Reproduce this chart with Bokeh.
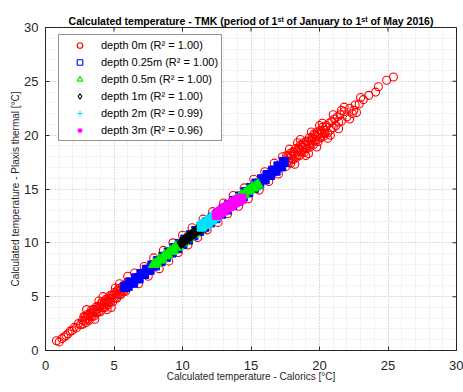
from bokeh.plotting import figure
from bokeh.models import (Range1d, SingleIntervalTicker, Legend, LegendItem,
                          ColumnDataSource)
from bokeh.embed import file_html
from bokeh.resources import INLINE

# ---- data ----
# depth 0m (red open circles)
d0_x = [0.8, 1.0, 1.2, 1.35, 1.5, 1.65, 1.8, 1.95, 2.1, 2.25, 2.4, 2.55,
        2.70, 2.75, 2.80, 2.85, 2.90, 2.95, 3.00, 3.05, 3.10, 3.15, 3.20, 3.25, 3.30,
        3.35, 3.40, 3.45, 3.50, 3.55, 3.60, 3.65, 3.70, 3.75, 3.80, 3.85, 3.90, 3.95,
        4.00, 4.05, 4.10, 4.15, 4.20, 4.25, 4.30, 4.35, 4.40, 4.45, 4.50, 4.55, 4.60,
        4.65, 4.70, 4.75, 4.80, 4.85, 4.90, 4.95, 5.00, 5.05, 5.10, 5.15, 5.20, 5.25,
        5.30, 5.35, 5.40, 5.45, 5.50, 5.55, 5.60, 5.65, 5.70, 5.75, 5.80, 5.85, 5.90,
        5.95, 6.00,
        3.0, 3.6, 4.2, 4.8, 5.4, 3.9, 4.5, 5.1,
        6.0, 6.5, 6.8, 7.2, 7.5, 7.9, 8.3, 8.6, 9.0, 9.3, 9.7, 10.0, 10.4, 10.7, 11.1,
        11.5, 11.8, 12.2, 12.6, 13.0, 13.3, 13.7, 14.1, 14.5, 14.8, 15.2, 15.6, 16.0,
        16.3, 16.7, 17.0, 17.3,
        17.50, 17.55, 17.60, 17.65, 17.70, 17.75, 17.80, 17.85, 17.90, 17.95, 18.00,
        18.05, 18.10, 18.15, 18.20, 18.25, 18.30, 18.35, 18.40, 18.45, 18.50, 18.55,
        18.60, 18.65, 18.70, 18.75, 18.80, 18.85, 18.90, 18.95, 19.00, 19.05, 19.10,
        19.15, 19.20, 19.25, 19.30, 19.35, 19.40, 19.45, 19.50, 19.55, 19.60, 19.65,
        19.70, 19.75, 19.80, 19.85, 19.90, 19.95, 20.00, 20.05, 20.10, 20.15, 20.20,
        20.25, 20.30, 20.35, 20.40, 20.45,
        17.8, 18.2, 18.6, 19.0, 19.4, 19.8, 20.2, 20.6, 21.0, 21.4, 21.8, 22.2, 18.4,
        19.2, 20.0, 20.8, 21.6, 22.5, 23.0, 22.7,
        20.5, 20.6, 20.7, 20.8, 20.9, 21.0, 21.1, 21.2, 21.3, 21.4, 21.5, 21.6, 21.8,
        22.0, 22.2, 22.4, 22.6, 22.9, 23.2, 23.6, 24.1, 24.3, 24.9, 25.4]
d0_y = [0.9, 0.8, 1.1, 1.25, 1.4, 1.55, 1.8, 1.85, 2.15, 2.1, 2.5, 2.4,
        2.80, 2.45, 3.15, 2.75, 3.15, 2.60, 3.00, 3.35, 2.90, 3.30, 2.80, 3.45, 3.25,
        3.75, 3.15, 3.50, 3.80, 3.20, 3.70, 3.50, 4.05, 3.50, 3.85, 4.10, 3.60, 4.10,
        3.60, 4.35, 4.00, 4.55, 4.00, 4.25, 4.50, 4.00, 4.75, 4.40, 4.65, 4.25, 4.85,
        4.50, 5.10, 4.50, 4.85, 5.15, 4.50, 5.15, 4.90, 5.40, 4.85, 5.25, 4.85, 5.55,
        5.25, 5.75, 5.20, 5.60, 5.20, 5.80, 5.50, 6.00, 5.45, 5.80, 6.10, 5.50, 6.10,
        5.80, 6.40,
        3.8, 2.9, 5.0, 4.0, 6.2, 4.6, 3.8, 5.8,
        6.9, 7.2, 6.2, 7.8, 6.9, 8.6, 7.6, 9.3, 8.3, 10.0, 9.1, 10.7, 9.8, 11.4, 10.5,
        12.2, 11.2, 12.9, 11.9, 13.7, 12.7, 14.4, 13.4, 15.1, 14.1, 15.9, 14.9, 16.6,
        15.7, 17.4, 16.4, 18.0,
        17.70, 17.10, 18.10, 17.55, 18.05, 17.45, 17.85, 18.30, 17.40, 18.10, 17.80,
        18.45, 17.75, 18.40, 18.15, 18.75, 17.90, 18.45, 18.15, 18.75, 18.70, 18.10,
        19.10, 18.55, 19.05, 18.45, 18.85, 19.30, 18.40, 19.10, 18.80, 19.45, 18.75,
        19.40, 19.15, 19.75, 18.90, 19.45, 19.15, 19.75, 19.70, 19.10, 20.10, 19.55,
        20.05, 19.45, 19.85, 20.30, 19.40, 20.10, 19.80, 20.45, 19.75, 20.40, 20.15,
        20.75, 19.90, 20.45, 20.15, 20.75,
        18.7, 17.3, 19.6, 18.1, 20.3, 18.9, 21.1, 19.7, 21.9, 20.6, 22.6, 21.5, 19.3,
        18.3, 20.9, 20.0, 22.3, 22.3, 23.5, 22.1,
        20.9, 20.2, 21.1, 20.5, 21.3, 20.7, 21.5, 20.9, 21.7, 21.2, 21.9, 21.3, 22.2,
        21.7, 22.5, 22.0, 22.8, 22.9, 23.3, 23.7, 24.0, 24.5, 25.1, 25.4]

# depth 0.25m (blue squares)
d025_x = [5.8, 6.0, 6.2, 6.4, 6.6, 6.8, 7.0, 7.2, 7.4, 7.6, 7.8, 8.0, 8.2, 8.4, 8.6,
          8.8, 9.0, 9.2, 9.4, 9.6, 9.8, 10.0, 10.2, 10.4, 10.6, 10.8, 11.0, 11.2, 11.4,
          11.6, 11.8, 12.0, 12.2, 12.4, 12.6, 12.8, 13.0, 13.2, 13.4, 13.6, 13.8, 14.0,
          14.2, 14.4, 14.6, 14.8, 15.0, 15.2, 15.4, 15.6, 15.8, 16.0, 16.2, 16.4, 16.6,
          16.8, 17.0, 17.2, 17.4]
d025_y = [5.9, 6.0, 6.3, 6.3, 6.7, 6.7, 7.1, 7.1, 7.5, 7.5, 7.9, 7.9, 8.3, 8.3, 8.7,
          8.7, 9.1, 9.1, 9.5, 9.5, 9.9, 9.9, 10.3, 10.3, 10.7, 10.7, 11.1, 11.1, 11.5,
          11.5, 11.9, 11.9, 12.3, 12.3, 12.7, 12.7, 13.1, 13.1, 13.5, 13.5, 13.9, 13.9,
          14.3, 14.3, 14.7, 14.7, 15.1, 15.1, 15.5, 15.5, 15.9, 15.9, 16.3, 16.3, 16.7,
          16.7, 17.1, 17.1, 17.5]

# depth 0.5m (green triangles)
d05_x = [7.9, 8.1, 8.3, 8.5, 8.7, 8.9, 9.1, 9.3, 9.5, 9.7, 9.9, 10.1, 10.3, 10.5, 10.7,
         10.9, 11.1, 11.3, 11.5, 11.7, 11.9, 12.1, 12.3, 12.5, 12.7, 12.9, 13.1, 13.3,
         13.5, 13.7, 13.9, 14.1, 14.3, 14.5, 14.7, 14.9, 15.1, 15.3, 15.5]
d05_y = [8.0, 8.1, 8.4, 8.5, 8.8, 8.9, 9.2, 9.3, 9.6, 9.7, 10.0, 10.1, 10.4, 10.5, 10.8,
         10.9, 11.2, 11.3, 11.6, 11.7, 12.0, 12.1, 12.4, 12.5, 12.8, 12.9, 13.2, 13.3,
         13.6, 13.7, 14.0, 14.1, 14.4, 14.5, 14.8, 14.9, 15.1, 15.2, 15.4]

# depth 1m (black diamonds)
d1_x = [9.9, 10.05, 10.2, 10.35, 10.5, 10.65, 10.8, 10.95, 11.1, 11.25, 11.4, 11.55, 11.7]
d1_y = [10.0, 10.1, 10.3, 10.4, 10.6, 10.7, 10.9, 11.0, 11.2, 11.3, 11.4, 11.5, 11.5]

# depth 2m (cyan crosses)
d2_x = [11.4, 11.55, 11.7, 11.85, 12.0, 12.15, 12.3, 12.45]
d2_y = [11.5, 11.7, 11.8, 11.9, 12.1, 12.2, 12.4, 12.5]

# depth 3m (magenta asterisks)
d3_x = [12.5, 12.65, 12.8, 12.95, 13.1, 13.25, 13.4, 13.55, 13.7, 13.85, 14.0, 14.15, 14.3]
d3_y = [12.6, 12.7, 12.9, 13.0, 13.2, 13.3, 13.4, 13.5, 13.7, 13.8, 13.9, 14.0, 14.1]

labels = ["depth 0m (R\u00b2 = 1.00)", "depth 0.25m (R\u00b2 = 1.00)",
          "depth 0.5m (R\u00b2 = 1.00)", "depth 1m (R\u00b2 = 1.00)",
          "depth 2m (R\u00b2 = 0.99)", "depth 3m (R\u00b2 = 0.96)"]

tick_values = [0, 5, 10, 15, 20, 25, 30]

FONT = "Liberation Sans"
AX = "#262626"

p = figure(width=463, height=392, output_backend="svg", toolbar_location=None,
           x_range=Range1d(0, 30), y_range=Range1d(0, 30),
           min_border_left=45, min_border_right=7, min_border_bottom=42, min_border_top=27)
p.background_fill_color = "white"
p.border_fill_color = "white"
p.outline_line_color = AX
p.outline_line_width = 1

p.title.text = ("Calculated temperature - TMK (period of 1\u02e2\u1d57 of January "
                "to 1\u02e2\u1d57 of May 2016)")
p.title.align = "center"
p.title.text_font = FONT
p.title.text_font_size = "10.5px"
p.title.text_font_style = "bold"
p.title.text_color = "black"
p.title.standoff = 1

tick = SingleIntervalTicker(interval=5, num_minor_ticks=5)
for ax in (p.xaxis[0], p.yaxis[0]):
    ax.ticker = tick
    ax.major_label_text_font = FONT
    ax.major_label_text_font_size = "13px"
    ax.major_label_text_color = AX
    ax.axis_label_text_font = FONT
    ax.axis_label_text_font_size = "10px"
    ax.axis_label_text_font_style = "normal"
    ax.axis_label_text_color = AX
    ax.axis_line_color = AX
    ax.major_tick_line_color = AX
    ax.major_tick_in = 4
    ax.major_tick_out = 0
    ax.minor_tick_line_color = None
p.xaxis.major_label_standoff = 6
p.xaxis.axis_label_standoff = -2
p.yaxis.major_label_standoff = 3
p.yaxis.axis_label_standoff = 0
p.xaxis.axis_label = "Calculated temperature - Calorics [\u00b0C]"
p.yaxis.axis_label = "Calculated temperature - Plaxis thermal [\u00b0C]"

for g in (p.xgrid[0], p.ygrid[0]):
    g.ticker = tick
    g.grid_line_color = "#c8c8c8"
    g.grid_line_dash = "1 2"
    g.minor_grid_line_color = "#dcdcdc"
    g.minor_grid_line_dash = "1 2"

# inward box ticks on the top and right edges (clipped to the frame)
n = len(tick_values)
p.rect(x=tick_values, y=[30] * n, width=1, height=8, width_units="screen",
       height_units="screen", fill_color=AX, line_color=None)
p.rect(x=[30] * n, y=tick_values, width=8, height=1, width_units="screen",
       height_units="screen", fill_color=AX, line_color=None)

series = [
    (d0_x, d0_y, "circle", "#ff0000", 8, None, 0),
    (d025_x, d025_y, "square", "#0000ff", 7, "square", 9),
    (d05_x, d05_y, "triangle", "#00ee00", 8, "triangle", 11),
    (d1_x, d1_y, "diamond", "#000000", 9, "diamond", 12),
    (d2_x, d2_y, "cross", "#00e5ff", 9, "square", 9),
    (d3_x, d3_y, "asterisk", "#ff00ff", 9, "square", 9),
]

items = []
for (xs, ys, mk, col, sz, fmk, fsz), lab in zip(series, labels):
    src = ColumnDataSource(dict(x=xs, y=ys))
    r_open = p.scatter("x", "y", source=src, marker=mk, size=sz,
                       fill_color=None, line_color=col, line_width=1.1)
    if fmk:
        p.scatter("x", "y", source=src, marker=fmk, size=fsz, fill_color=col,
                  line_color=col, line_width=1)
    items.append(LegendItem(label=lab, renderers=[r_open]))

legend = Legend(items=items, location=(13, 209))
legend.label_text_font = FONT
legend.label_text_font_size = "11px"
legend.label_text_color = "black"
legend.border_line_color = AX
legend.border_line_width = 1
legend.background_fill_color = "white"
legend.background_fill_alpha = 1
legend.padding = 3
legend.margin = 0
legend.spacing = 3
legend.glyph_width = 35
legend.glyph_height = 14
legend.label_height = 14
legend.label_standoff = 4
p.add_layout(legend)

open("out.html", "w").write(file_html(p, INLINE))
